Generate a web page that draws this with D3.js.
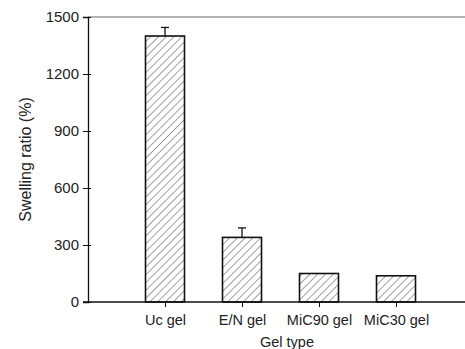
<!DOCTYPE html>
<html>
<head>
<meta charset="utf-8">
<script src="https://cdn.jsdelivr.net/npm/d3@7"></script>
<style>
  body { margin: 0; background: #fff; }
  svg { display: block; }
  text { font-family: "Liberation Sans", Arial, sans-serif; fill: #222; }
</style>
</head>
<body>
<div id="chart"></div>
<script>
// data
var gelTypes = ["Uc gel", "E/N gel", "MiC90 gel", "MiC30 gel"];
var swelling = [1400, 340, 150, 138];
var errors = [45, 50, 0, 0];
var yTicks = [0, 300, 600, 900, 1200, 1500];

var width = 465, height = 349;
var plotLeft = 88, plotTop = 17, plotBottom = 302, plotRight = 473;

var svg = d3.select("#chart").append("svg")
  .attr("width", width)
  .attr("height", height);

var defs = svg.append("defs");
var hatch = defs.append("pattern")
  .attr("id", "hatch")
  .attr("patternUnits", "userSpaceOnUse")
  .attr("width", 5.5)
  .attr("height", 5.5)
  .attr("patternTransform", "rotate(45)");
hatch.append("line")
  .attr("x1", 0).attr("y1", 0)
  .attr("x2", 0).attr("y2", 5.5)
  .attr("stroke", "#555")
  .attr("stroke-width", 1.1);

var x = d3.scalePoint()
  .domain(gelTypes)
  .range([plotLeft, plotRight])
  .padding(1);

var y = d3.scaleLinear()
  .domain([0, 1500])
  .range([plotBottom, plotTop]);

var barW = 39;

// top frame line
svg.append("line")
  .attr("x1", plotLeft).attr("x2", width)
  .attr("y1", y(1500)).attr("y2", y(1500))
  .attr("stroke", "#666")
  .attr("stroke-width", 1);

// bars
svg.selectAll("rect.bar")
  .data(gelTypes)
  .enter()
    .append("rect")
    .attr("class", "bar")
    .attr("x", function(d){ return x(d) - barW / 2; })
    .attr("y", function(d, i){ return y(swelling[i]); })
    .attr("width", barW)
    .attr("height", function(d, i){ return y(0) - y(swelling[i]); })
    .attr("fill", "url(#hatch)")
    .attr("stroke", "#111")
    .attr("stroke-width", 1.6);

// error bars
var errG = svg.selectAll("g.err")
  .data(gelTypes.filter(function(d, i){ return errors[i] > 0; }))
  .enter()
    .append("g")
    .attr("class", "err");
errG.append("line")
  .attr("x1", function(d){ return x(d); })
  .attr("x2", function(d){ return x(d); })
  .attr("y1", function(d){ var i = gelTypes.indexOf(d); return y(swelling[i]); })
  .attr("y2", function(d){ var i = gelTypes.indexOf(d); return y(swelling[i] + errors[i]); })
  .attr("stroke", "#111")
  .attr("stroke-width", 1.3);
errG.append("line")
  .attr("x1", function(d){ return x(d) - 4; })
  .attr("x2", function(d){ return x(d) + 4; })
  .attr("y1", function(d){ var i = gelTypes.indexOf(d); return y(swelling[i] + errors[i]); })
  .attr("y2", function(d){ var i = gelTypes.indexOf(d); return y(swelling[i] + errors[i]); })
  .attr("stroke", "#111")
  .attr("stroke-width", 1.3);

// y axis
var yAxis = svg.append("g")
  .attr("transform", "translate(" + plotLeft + ",0)")
  .call(d3.axisLeft(y).tickValues(yTicks).tickSize(5).tickPadding(5).tickFormat(d3.format("d")));
yAxis.select(".domain").attr("stroke", "#111").attr("stroke-width", 1.3);
yAxis.selectAll(".tick line").attr("stroke", "#111").attr("x2", 3).attr("x1", -5);
yAxis.selectAll(".tick text")
  .style("font-size", "15px")
  .attr("fill", "#222")
  .attr("x", -9);

// x axis
var xAxis = svg.append("g")
  .attr("transform", "translate(0," + plotBottom + ")")
  .call(d3.axisBottom(x).tickSize(5).tickSizeOuter(0).tickPadding(8));
xAxis.select(".domain")
  .attr("d", "M" + (plotLeft - 5) + ",0H" + width)
  .attr("stroke", "#111")
  .attr("stroke-width", 1.3);
xAxis.selectAll(".tick line").attr("stroke", "#111");
xAxis.selectAll(".tick text")
  .style("font-size", "14.5px")
  .attr("fill", "#222");

// axis titles
svg.append("text")
  .attr("transform", "translate(31," + (plotTop + plotBottom) / 2 + ") rotate(-90)")
  .attr("text-anchor", "middle")
  .style("font-size", "16px")
  .text("Swelling ratio (%)");

svg.append("text")
  .attr("x", 287)
  .attr("y", 347)
  .attr("text-anchor", "middle")
  .style("font-size", "14.5px")
  .text("Gel type");
</script>
</body>
</html>
